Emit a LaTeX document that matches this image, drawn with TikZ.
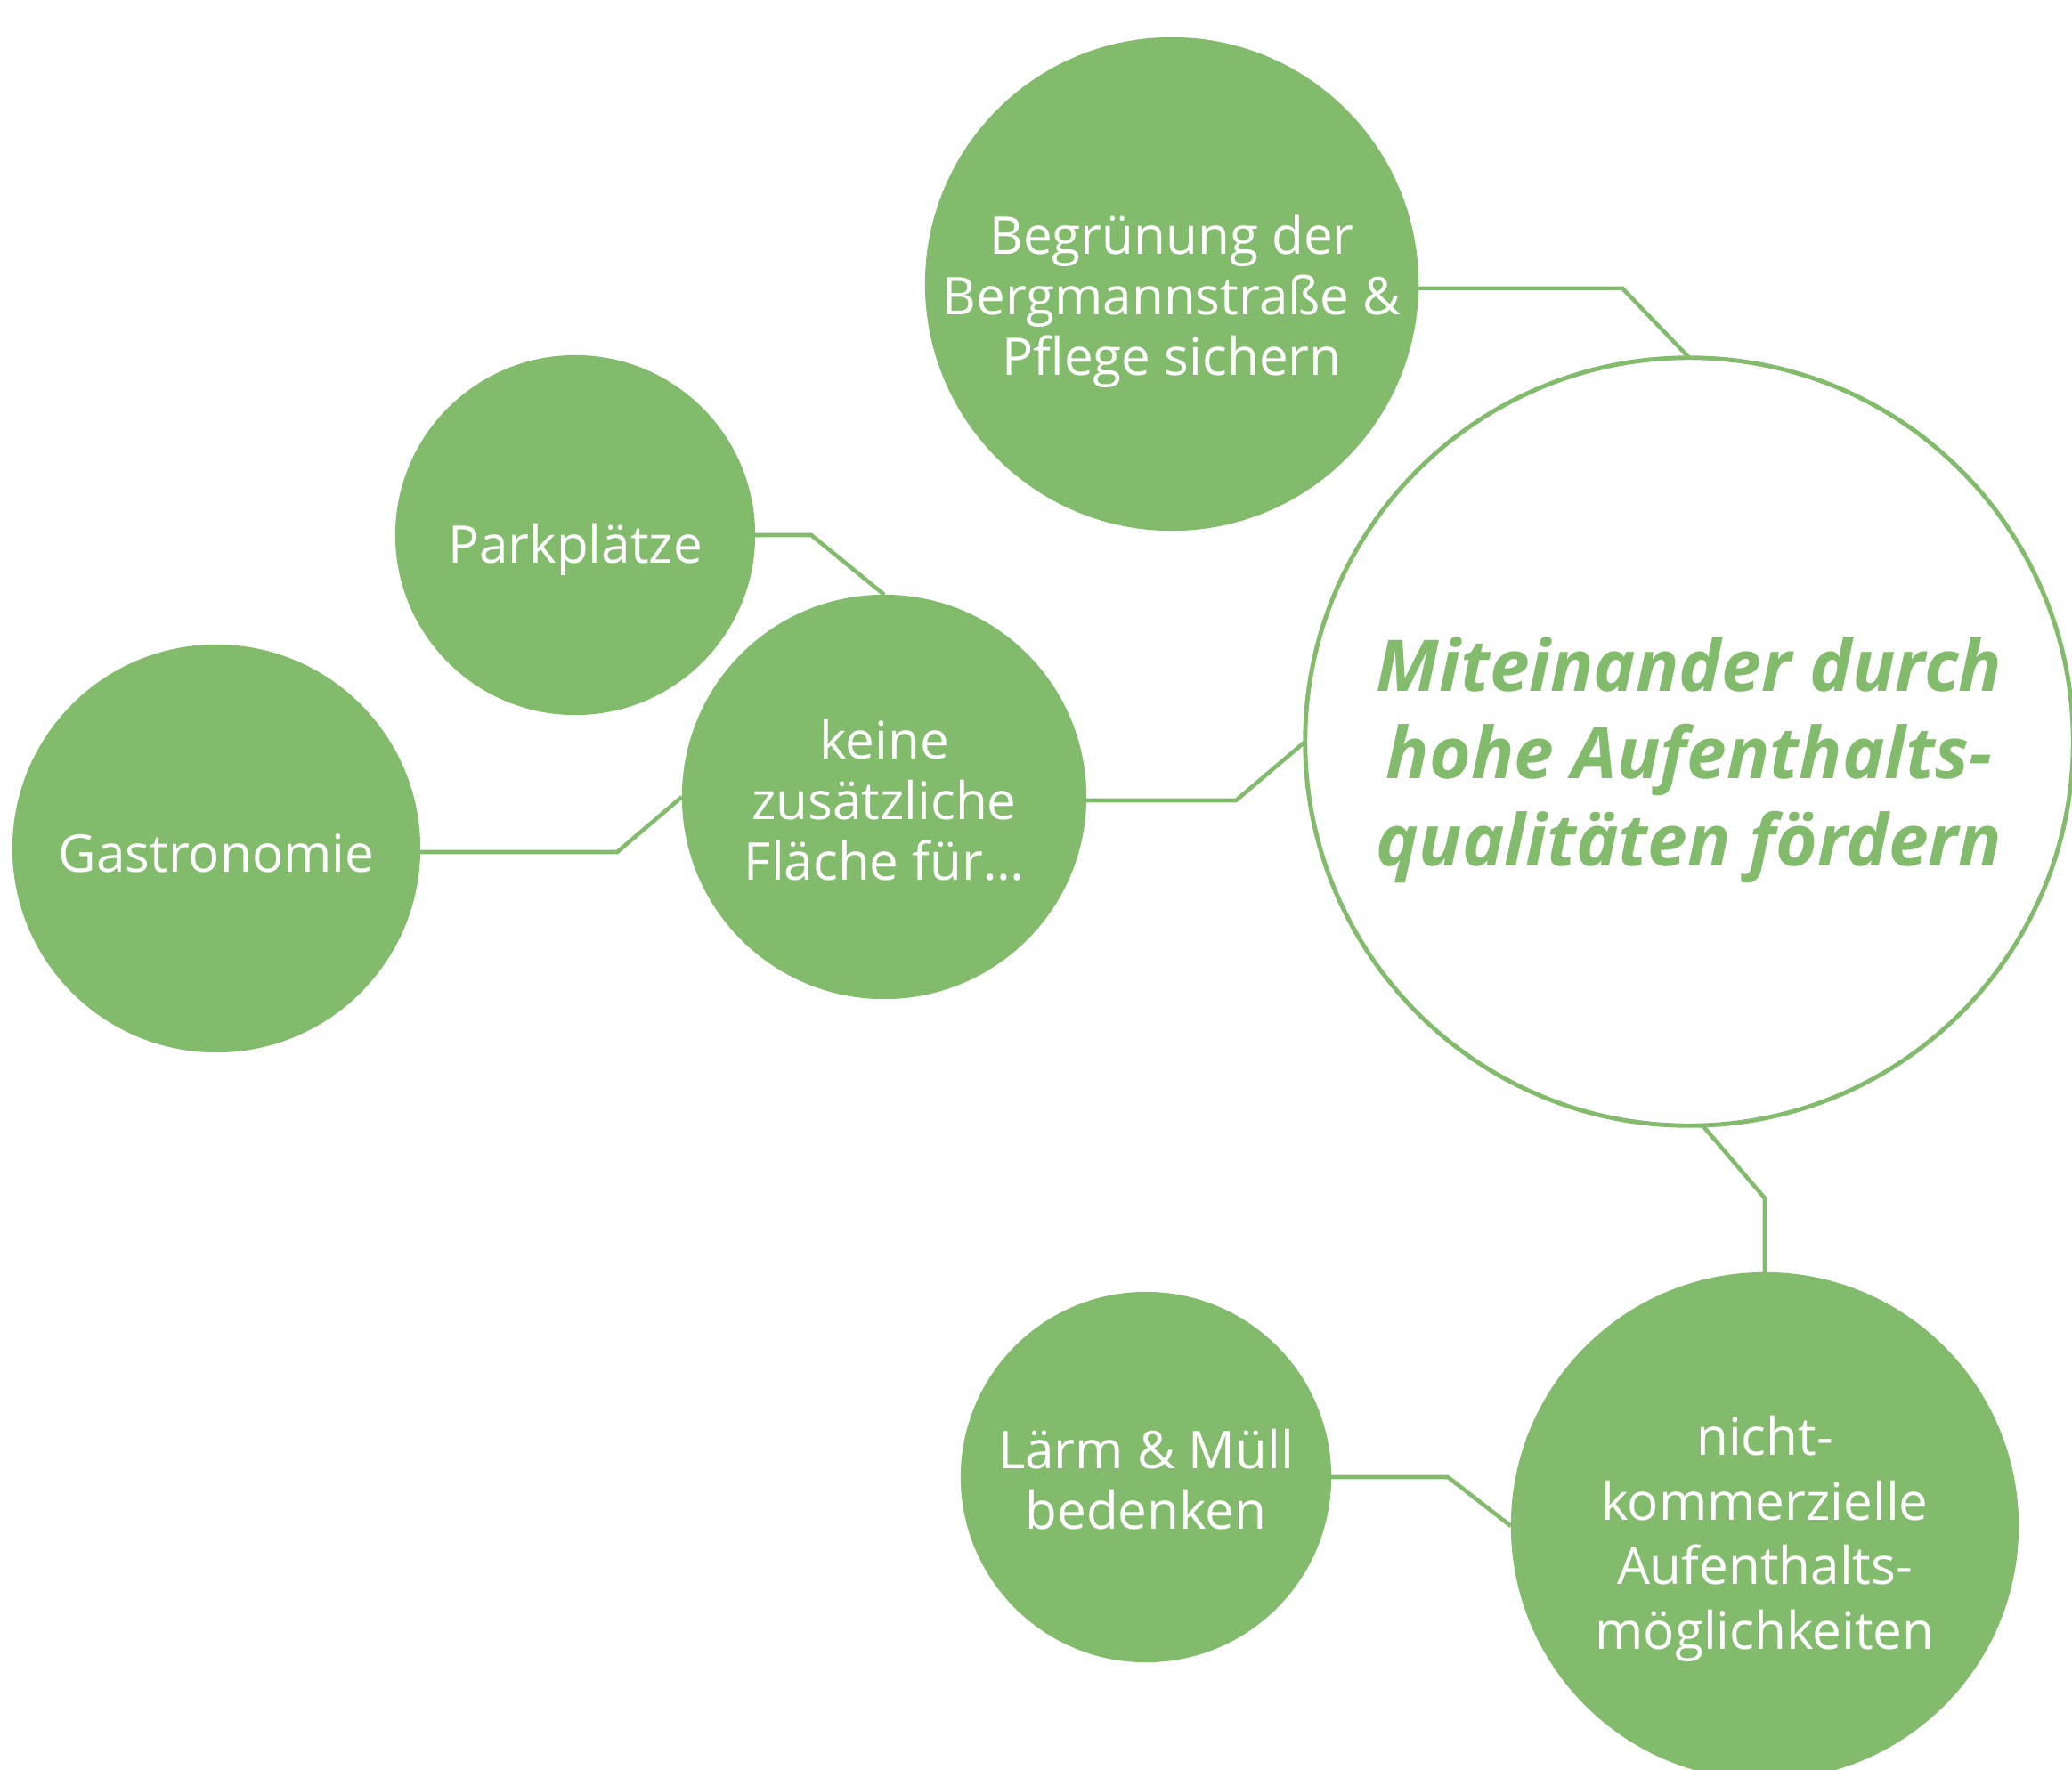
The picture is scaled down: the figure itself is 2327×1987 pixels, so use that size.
\documentclass[tikz,border=0pt]{standalone}
\usepackage{fontspec}
\setmainfont{Open Sans}
\usetikzlibrary{calc}
\definecolor{leaf}{HTML}{83BB6D}
% text block, lowered inside its circle by #1
\newcommand{\lowtext}[2]{\raisebox{-#1}[\height][\depth]{\begin{tabular}{@{}c@{}}#2\end{tabular}}}
\tikzset{
    bubble/.style = {circle, fill = leaf, text = white, inner sep = 0pt, outer sep = 0pt,
        font = \fontsize{16.6}{19.3}\selectfont},
    link/.style = {draw = leaf, line width = 1.3pt},
}

\begin{document}
\begin{tikzpicture}[x = 0.01cm, y = -0.01cm]

    \useasboundingbox (0,0) rectangle (2327,1987);
    \clip (0,0) rectangle (2327,1987);

    \node[circle, draw = leaf, line width = 1.4pt, fill = white, text = leaf, inner sep = 0pt, outer sep = 0pt,
        minimum size = 8.62cm, font = \bfseries\itshape\fontsize{22.8}{27.8}\selectfont] (main) at (1897,833)
        {\lowtext{2.2mm}{Miteinander durch\\ hohe Aufenthalts-\\ qualitäten fördern}};

    \node[bubble, minimum size = 5.54cm] (begr) at (1316,319) {\lowtext{2.1mm}{Begrünung der\\ Bergmannstraße \&\\ Pflege sichern}};
    \node[bubble, minimum size = 4.04cm] (park) at (646,601) {\lowtext{1.8mm}{Parkplätze}};
    \node[bubble, minimum size = 4.54cm] (keine) at (993,895) {\lowtext{1.2mm}{keine\\ zusätzliche\\ Fläche für…}};
    \node[bubble, minimum size = 4.58cm] (gastro) at (243,953) {\lowtext{1.3mm}{Gastronomie}};
    \node[bubble, minimum size = 4.16cm] (laerm) at (1287,1659) {\lowtext{1.1mm}{Lärm \& Müll\\ bedenken}};
    \node[bubble, minimum size = 5.7cm, font = \fontsize{16.6}{20.6}\selectfont] (nicht) at (1982,1714)
        {\lowtext{1.5mm}{nicht-\\ kommerzielle\\ Aufenthalts-\\ möglichkeiten}};

    % connectors
    \draw[link] (begr.-1) -- ++(229,0) -- (main.north);
    \draw[link] (park.east) -- ++(63,0) -- (keine.north);
    \draw[link] (keine.-1) -- ++(168,0) -- (main.west);
    \draw[link] (gastro.-1) -- ++(221,0) -- (keine.west);
    \draw[link] (main.-88) -- ($(nicht.north) + (0,-83)$) -- (nicht.north);
    \draw[link] (laerm.east) -- ++(131,0) -- (nicht.west);

\end{tikzpicture}
\end{document}
